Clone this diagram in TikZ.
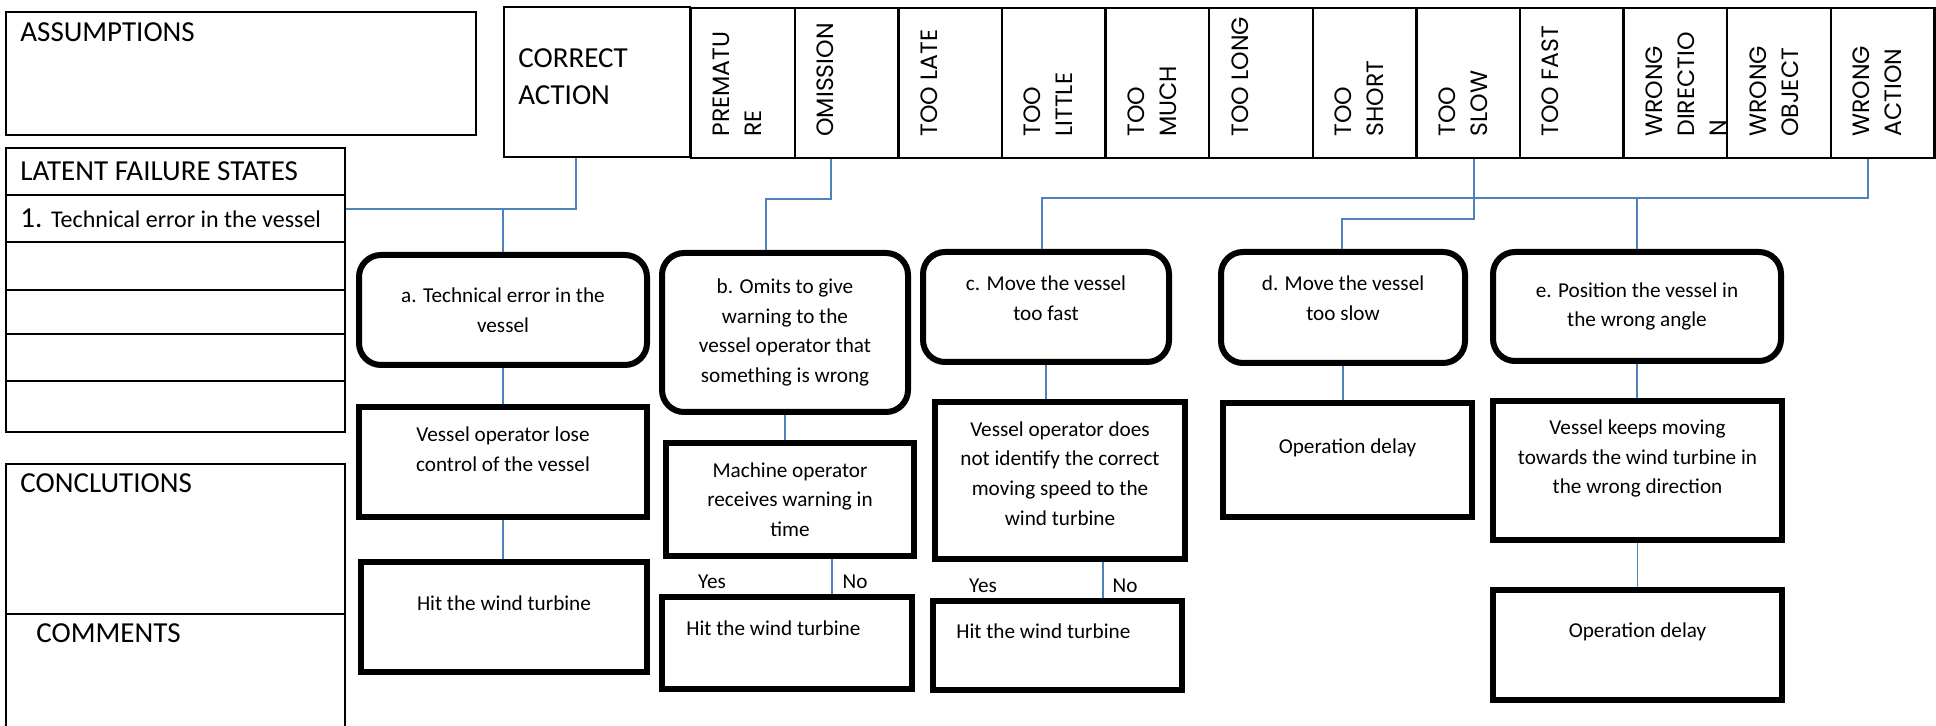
\documentclass[tikz,border=0pt]{standalone}
\usepackage{fontspec}
\setmainfont{Carlito}
\newfontfamily\capsfont{Poppins}
\definecolor{linkblue}{HTML}{4F81BD}

\begin{document}
\begin{tikzpicture}[
    x=0.5pt, y=-0.5pt,  % 1 unit = 1 px, y grows downwards
    wh/.style 2 args={minimum width=#1*0.5pt, minimum height=#2*0.5pt},
    cell/.style={draw, line width=1.2pt, inner sep=0pt},
    box/.style={draw, line width=3pt, inner sep=0pt, align=center, font=\fontsize{10.6}{14.8}\selectfont},
    rbox/.style={box, rounded corners=11pt},
    head/.style={anchor=west, inner sep=0pt, align=left, font=\fontsize{14.5}{18.5}\selectfont},
    vtext/.style={rotate=90, anchor=north west, inner sep=0pt, align=left, font=\capsfont\fontsize{11.8}{16}\selectfont},
    note/.style={inner sep=0pt, align=center, font=\fontsize{10.6}{14.8}\selectfont},
    link/.style={draw=linkblue, line width=0.8pt}
  ]
  \useasboundingbox (0,0) rectangle (1936,726);

  % --- LEFT COLUMN ---
  \node[cell, wh={470}{123}] (assum) at (241,73.5) {};
  \node[head] at (20,32) {ASSUMPTIONS};

  \node[cell, wh={339}{47}] (latent) at (175.5,171.5) {};
  \node[head] at (20,171) {LATENT FAILURE STATES};
  \foreach \y/\h [count=\i] in {218.5/47, 266/48, 312/44, 357.5/47, 406.5/51}
    \node[cell, wh={339}{\h}] (l\i) at (175.5,\y) {};
  \node[anchor=west, inner sep=0pt] at (20,218)
    {\fontsize{14.5}{17}\selectfont 1. \fontsize{12}{14}\selectfont Technical error in the vessel};

  \node[cell, wh={339}{150}] (concl) at (175.5,539) {};
  \node[head] at (20,483) {CONCLUTIONS};
  \node[cell, wh={339}{126}] (comm) at (175.5,677) {};
  \node[head] at (36,633) {COMMENTS};

  % --- HEADER ROW ---
  \node[cell, wh={186}{150}] (ca) at (597,82) {};
  \node[head] at (518,76.5) {CORRECT\\ACTION};
  \foreach \name/\txt [count=\i] in {prem/{PREMATU\\RE}, omis/OMISSION, late/{TOO LATE},
      little/{TOO\\LITTLE}, much/{TOO\\MUCH}, long/{TOO LONG}, short/{TOO\\SHORT},
      slow/{TOO\\SLOW}, fast/{TOO FAST}, wdir/{WRONG\\DIRECTIO\\N},
      wobj/{WRONG\\OBJECT}, wact/{WRONG\\ACTION}}
  {
    \node[cell, wh={103.6}{150}, anchor=north west] (\name) at ({690+(\i-1)*103.6},7) {};
    \node[vtext] at ({690+(\i-1)*103.6+23},137) {\txt};
  }

  % --- ERRORS ---
  \node[rbox, wh={288}{110}] (a) at (503,310) {a. Technical error in the\\vessel};
  \node[rbox, wh={246}{159}] (b) at (785,332.5)
    {b. Omits to give\\warning to the\\vessel operator that\\something is wrong};
  \node[rbox, wh={246}{110}] (c) at (1046,307) {};
  \node[note] at ([yshift=4.5pt]c.center) {c. Move the vessel\\too fast};
  \node[rbox, wh={244}{111}] (d) at (1343,307.5) {};
  \node[note] at ([yshift=4.5pt]d.center) {d. Move the vessel\\too slow};
  \node[rbox, wh={288}{109}] (e) at (1637,306.5) {e. Position the vessel in\\the wrong angle};

  % --- CONSEQUENCES ---
  \node[box, wh={288}{110}] (a2) at (503,462) {};
  \node[note] at ([yshift=6.5pt]a2.center) {Vessel operator lose\\control of the vessel};
  \node[box, wh={286}{110}] (a3) at (504,617) {};
  \node[note] at ([yshift=7pt]a3.center) {Hit the wind turbine};

  \node[box, wh={248}{113}] (b2) at (790,499.5) {Machine operator\\receives warning in\\time};
  \node[box, wh={250}{92}] (b3) at (787,643) {};
  \node[note, anchor=west] at (686,628) {Hit the wind turbine};

  \node[box, wh={250}{157}] (c2) at (1060,480.5) {};
  \node[note] at ([yshift=3.5pt]c2.center)
    {Vessel operator does\\not identify the correct\\moving speed to the\\wind turbine};
  \node[box, wh={249}{89}] (c3) at (1057.5,645.5) {};
  \node[note, anchor=west] at (956,631) {Hit the wind turbine};

  \node[box, wh={249}{114}] (d2) at (1347.5,460) {};
  \node[note] at ([yshift=6pt]d2.center) {Operation delay};

  \node[box, wh={289}{139}] (e2) at (1637.5,470.5) {};
  \node[note] at ([yshift=6pt]e2.center)
    {Vessel keeps moving\\towards the wind turbine in\\the wrong direction};
  \node[box, wh={289}{110}] (e3) at (1637.5,645) {};
  \node[note] at ([yshift=6.5pt]e3.center) {Operation delay};

  % --- YES / NO ---
  \node[note] (yb) at (712,582) {Yes};
  \node[note] (nb) at (855,582) {No};
  \node[note] (yc) at (983,586) {Yes};
  \node[note] (nc) at (1125,586) {No};

  % --- CONNECTORS ---
  \coordinate (j1) at (576,209);
  \draw[link] (ca.south -| j1) -- (j1) -- (l1.east |- j1);
  \draw[link] (a.north |- j1) -- (a.north);

  \coordinate (k1) at (831,199);
  \coordinate (k2) at (766,199);
  \draw[link] (omis.south -| k1) -- (k1) -- (k2) -- (k2 |- b.north);

  \coordinate (k3) at (1868,198);
  \coordinate (k4) at (1042,198);
  \draw[link] (wact.south -| k3) -- (k3) -- (k4) -- (k4 |- c.north);
  \draw[link] (e.north |- k3) -- (e.north);

  \coordinate (k5) at (1474,219);
  \coordinate (k6) at (1342,219);
  \draw[link] (slow.south -| k5) -- (k5) -- (k6) -- (k6 |- d.north);

  \draw[link] (a.south) -- (a2.north);
  \draw[link] (a2.south) -- (a2.south |- a3.north);
  \draw[link] (b.south) -- (b.south |- b2.north);
  \coordinate (kb) at (832,570);
  \draw[link] (b2.south -| kb) -- (b3.north -| kb);
  \draw[link] (c.south) -- (c.south |- c2.north);
  \coordinate (kc) at (1103,580);
  \draw[link] (c2.south -| kc) -- (c3.north -| kc);
  \draw[link] (d.south) -- (d.south |- d2.north);
  \draw[link] (e.south) -- (e.south |- e2.north);
  \draw[link] (e2.south) -- (e2.south |- e3.north);

\end{tikzpicture}
\end{document}
